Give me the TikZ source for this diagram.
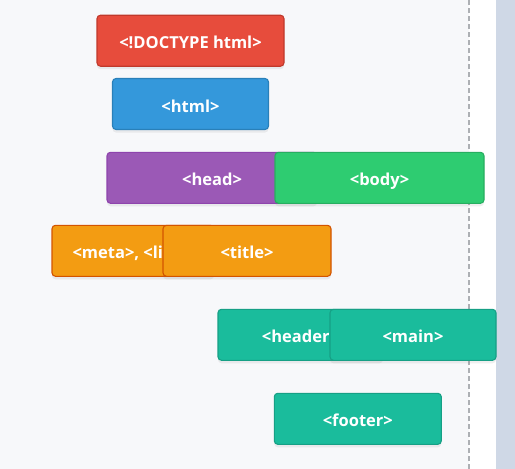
\documentclass[tikz,border=0pt]{standalone}
\usepackage{fontspec}
\setmainfont{Open Sans}
\usetikzlibrary{shadows}
\definecolor{pagebg}{HTML}{F7F8FA}
\definecolor{scrollbg}{HTML}{CFD8E6}
\definecolor{guide}{HTML}{ADB0B4}
\definecolor{doctype}{HTML}{E74C3C}
\definecolor{doctypeline}{HTML}{C0392B}
\definecolor{root}{HTML}{3498DB}
\definecolor{rootline}{HTML}{2980B9}
\definecolor{headpart}{HTML}{9B59B6}
\definecolor{headline}{HTML}{8E44AD}
\definecolor{bodypart}{HTML}{2ECC71}
\definecolor{bodyline}{HTML}{27AE60}
\definecolor{headkid}{HTML}{F39C12}
\definecolor{headkidline}{HTML}{D35400}
\definecolor{bodykid}{HTML}{1ABC9C}
\definecolor{bodykidline}{HTML}{16A085}

\begin{document}
\begin{tikzpicture}[x=1pt,y=-1pt,
  tag/.style={rectangle,rounded corners=3.5pt,line width=1.1pt,inner sep=0pt,
    minimum height=51pt,text height=16pt,text depth=0pt,text=white,
    font=\fontsize{16.5}{18}\selectfont\bfseries,
    drop shadow={opacity=0.12,shadow xshift=0pt,shadow yshift=-3pt}},
  doc/.style={tag,fill=doctype,draw=doctypeline},
  top/.style={tag,fill=root,draw=rootline},
  hd/.style={tag,fill=headpart,draw=headline},
  bd/.style={tag,fill=bodypart,draw=bodyline},
  hdkid/.style={tag,fill=headkid,draw=headkidline},
  bdkid/.style={tag,fill=bodykid,draw=bodykidline}]
% page and scroll area
\useasboundingbox (0,0) rectangle (515,469);
\fill[pagebg] (0,0) rectangle (469,469);
\fill[white] (469,0) rectangle (496,469);
\fill[scrollbg] (496,0) rectangle (515,469);
\draw[guide,line width=1.5pt,dash pattern=on 5pt off 3pt] (468.75,0) -- (468.75,469);
% document levels
\node[doc,minimum width=187pt] (doctype) at (190.5,40.7) {<!DOCTYPE html>};
\node[top,minimum width=156pt] (html) at (190.5,104) {<html>};
\node[hd,minimum width=210pt] (head) at (212,177.8) {<head>};
\node[bd,minimum width=209pt] (body) at (379.5,177.8) {<body>};
\node[hdkid,minimum width=162pt] (meta) at (133,250.8) {<meta>, <link>};
\node[hdkid,minimum width=168pt] (title) at (247,250.8) {<title>};
\node[bdkid,minimum width=165pt] (header) at (300.5,334.8) {<header>};
\node[bdkid,minimum width=166pt] (main) at (413,334.8) {<main>};
\node[bdkid,minimum width=167pt] (footer) at (357.8,418.8) {<footer>};
\end{tikzpicture}
\end{document}
